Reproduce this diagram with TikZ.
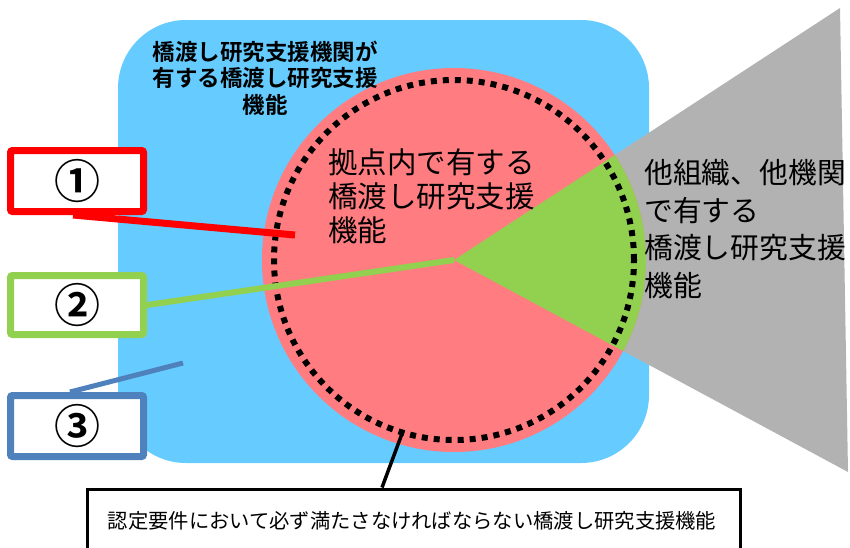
\documentclass[tikz,border=0pt]{standalone}
\usepackage{fontspec}
\setmainfont{Noto Sans CJK JP}[BoldFont={Noto Sans CJK JP Bold}]
\definecolor{bluebg}{HTML}{66CCFF}
\definecolor{pinkc}{HTML}{FF7C80}
\definecolor{greenc}{HTML}{92D050}
\definecolor{grayc}{HTML}{B2B2B2}
\definecolor{redb}{HTML}{FF0000}
\definecolor{blueb}{HTML}{4F81BD}
\tikzset{
  numbox/.style={draw, fill=white, line width=7pt, rounded corners=2pt,
    minimum width=133pt, minimum height=61pt, inner sep=0pt,
    font=\bfseries\fontsize{46}{50}\selectfont},
  conn/.style={line width=#1, line cap=butt},
  txt/.style={inner sep=0pt, text=black}
}
\begin{document}
\begin{tikzpicture}[x=1pt,y=-1pt]
\useasboundingbox (0,0) rectangle (850,547);
% blue background
\fill[bluebg, rounded corners=68pt] (118,20) rectangle (649,463);
% centre
\coordinate (c) at (454,260);
\coordinate (gt) at (840,8);
\coordinate (gb) at (848,472);
% gray fan
\fill[grayc] (c) -- (gt) -- (gb) -- cycle;
% pink circle
\fill[pinkc] (c) circle[radius=192pt];
% green sector
\begin{scope}
  \clip (c) circle[radius=192pt];
  \fill[greenc] (c) -- (gt) -- (gb) -- cycle;
\end{scope}
% dotted circle
\draw[line width=6pt, dash pattern=on 6pt off 6pt] (c) circle[radius=180pt];
% texts
\node[txt, align=center, font=\bfseries\fontsize{22.5}{26.5}\selectfont] (tblue) at (265,78)
  {橋渡し研究支援機関が\\有する橋渡し研究支援\\機能};
\node[txt, align=left, anchor=west, font=\fontsize{29.5}{34}\selectfont] (tpink) at (328,196)
  {拠点内で有する\\橋渡し研究支援\\機能};
\node[txt, align=left, anchor=west, font=\fontsize{28.8}{37.5}\selectfont] (tgray) at (644,229)
  {他組織、他機関\\で有する\\橋渡し研究支援\\機能};
% numbered boxes
\node[numbox, draw=redb] (b1) at (77,181) {①};
\node[numbox, draw=greenc, minimum height=59pt] (b2) at (77,305) {②};
\node[numbox, draw=blueb] (b3) at (77,426) {③};
% connectors
\coordinate (p1) at (295,235);
\coordinate (p3) at (183,363);
\coordinate (p4) at (403,431);
\draw[conn=7pt, redb] ([xshift=-4pt]b1.south) -- (p1);
\draw[conn=6pt, greenc] (b2.east) -- (c);
\draw[conn=5pt, blueb] ([xshift=-7pt]b3.north) -- (p3);
% bottom box
\node[draw, line width=3pt, fill=white, minimum width=653pt, minimum height=80pt, inner sep=0pt] (bb) at (413.5,529) {};
\node[txt, font=\fontsize{20.3}{22}\selectfont] (tbot) at (412,521)
  {認定要件において必ず満たさなければならない橋渡し研究支援機能};
\draw[conn=3.5pt, black] (p4) -- ([xshift=-31.5pt]bb.north);
\end{tikzpicture}
\end{document}
